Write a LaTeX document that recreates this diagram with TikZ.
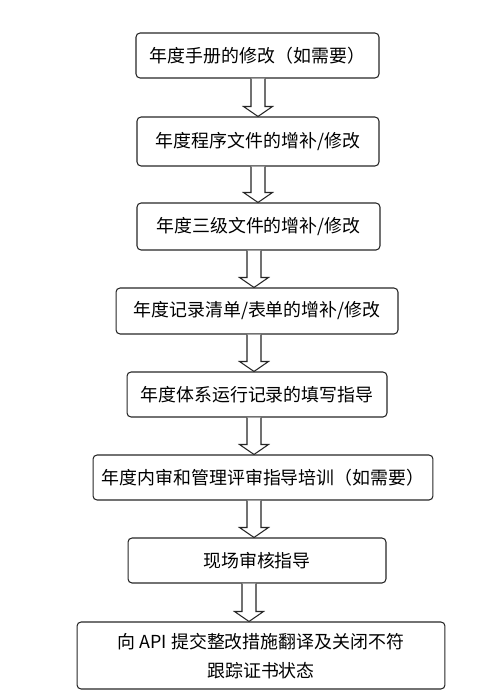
\documentclass[tikz,border=0pt]{standalone}
\usepackage{fontspec}
\setmainfont{Noto Sans CJK SC}
\usetikzlibrary{calc}
\newcommand{\flowarrow}[3]{%
\draw[hollow] ($(#1.south -| #3)+(-7,0)$) -- ($(#2.north -| #3)+(-7,-10)$) -- ($(#2.north -| #3)+(-14.5,-10)$) -- (#2.north -| #3) -- ($(#2.north -| #3)+(14.5,-10)$) -- ($(#2.north -| #3)+(7,-10)$) -- ($(#1.south -| #3)+(7,0)$);}
\begin{document}
\begin{tikzpicture}[x=.02cm,y=-.02cm,font=\fontsize{10.2pt}{16.5pt}\selectfont,
  box/.style={draw=black!85,line width=.6pt,rounded corners=.08cm,inner sep=0pt,align=center},
  hollow/.style={draw=black!85,line width=.6pt,fill=white}]
\useasboundingbox (0,0) rectangle (500,693);
\node[box,minimum width=4.86cm,minimum height=.9cm] (b1) at (257.5,55.5) {年度手册的修改（如需要）};
\node[box,minimum width=4.84cm,minimum height=.98cm] (b2) at (258,141.5) {年度程序文件的增补/修改};
\node[box,minimum width=4.86cm,minimum height=.94cm] (b3) at (258.5,226.5) {年度三级文件的增补/修改};
\node[box,minimum width=5.64cm,minimum height=.92cm] (b4) at (257,311) {年度记录清单/表单的增补/修改};
\node[box,minimum width=5.2cm,minimum height=.9cm] (b5) at (257,394.5) {年度体系运行记录的填写指导};
\node[box,minimum width=6.8cm,minimum height=.9cm] (b6) at (263,477.5) {年度内审和管理评审指导培训（如需要）};
\node[box,minimum width=5.16cm,minimum height=.9cm] (b7) at (257,560.5) {现场审核指导};
\node[box,minimum width=7.36cm,minimum height=1.34cm] (b8) at (261,655.5) {\rule{0pt}{9pt}向 API 提交整改措施翻译及关闭不符\\跟踪证书状态};
\coordinate (x1) at (258,0);
\coordinate (x2) at (254,0);
\coordinate (x3) at (249,0);
\flowarrow{b1}{b2}{x1}
\flowarrow{b2}{b3}{x1}
\flowarrow{b3}{b4}{x2}
\flowarrow{b4}{b5}{x2}
\flowarrow{b5}{b6}{x2}
\flowarrow{b6}{b7}{x2}
\flowarrow{b7}{b8}{x3}
\end{tikzpicture}
\end{document}
